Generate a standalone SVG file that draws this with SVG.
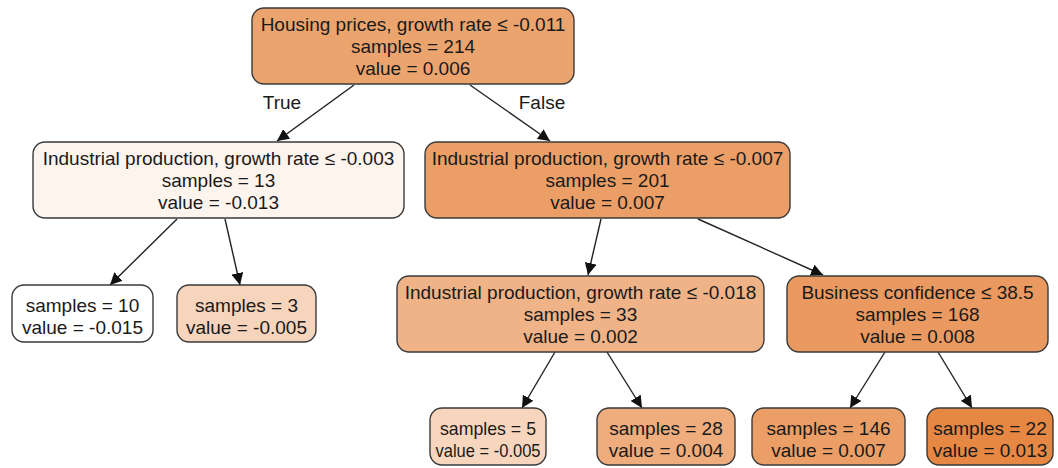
<svg xmlns="http://www.w3.org/2000/svg" width="1058" height="468" viewBox="0 0 1058 468">
<defs>
<style>
.n{stroke:#3a3a3a;stroke-width:1.4}
text{font-family:"Liberation Sans",Arial,sans-serif;font-size:19px;fill:#1a1a1a;text-anchor:middle}
.e{stroke:#222;stroke-width:1.4;fill:none;marker-end:url(#ah)}
</style>
<marker id="ah" viewBox="0 0 10 10" refX="10" refY="5" markerWidth="12" markerHeight="12" markerUnits="userSpaceOnUse" orient="auto">
<path d="M0,0 L10,5 L0,10 z" fill="#111"/>
</marker>
</defs>
<rect width="1058" height="468" fill="#fff"/>
<g id="edges">
<line class="e" x1="354" y1="85" x2="277" y2="141"/>
<line class="e" x1="470" y1="85" x2="550" y2="141"/>
<line class="e" x1="177" y1="219" x2="110" y2="285"/>
<line class="e" x1="225" y1="219" x2="240" y2="285"/>
<line class="e" x1="601" y1="219" x2="588" y2="275"/>
<line class="e" x1="698" y1="219" x2="823" y2="275"/>
<line class="e" x1="555" y1="352" x2="522" y2="408"/>
<line class="e" x1="607" y1="352" x2="642" y2="408"/>
<line class="e" x1="885" y1="352" x2="850" y2="408"/>
<line class="e" x1="938" y1="352" x2="972" y2="408"/>
<text x="282" y="109">True</text>
<text x="542" y="109">False</text>
</g>
<g id="n0">
<rect class="n" x="252" y="8" width="322" height="76" rx="12" fill="#eca46e"/>
<text x="413" y="31">Housing prices, growth rate ≤ -0.011</text>
<text x="413" y="53">samples = 214</text>
<text x="413" y="75">value = 0.006</text>
</g>
<g id="n1">
<rect class="n" x="33" y="142" width="371" height="76" rx="12" fill="#fdf4ee"/>
<text x="218.5" y="165">Industrial production, growth rate ≤ -0.003</text>
<text x="218.5" y="187">samples = 13</text>
<text x="218.5" y="209">value = -0.013</text>
</g>
<g id="n2">
<rect class="n" x="425" y="142" width="365" height="76" rx="12" fill="#eb9e66"/>
<text x="607.5" y="165">Industrial production, growth rate ≤ -0.007</text>
<text x="607.5" y="187">samples = 201</text>
<text x="607.5" y="209">value = 0.007</text>
</g>
<g id="n3">
<rect class="n" x="12" y="285" width="141" height="57" rx="12" fill="#ffffff"/>
<text x="82.5" y="312">samples = 10</text>
<text x="82.5" y="334">value = -0.015</text>
</g>
<g id="n4">
<rect class="n" x="177" y="285" width="139" height="57" rx="12" fill="#f7d5bd"/>
<text x="246.5" y="312">samples = 3</text>
<text x="246.5" y="334">value = -0.005</text>
</g>
<g id="n5">
<rect class="n" x="397" y="276" width="367" height="76" rx="12" fill="#f0b287"/>
<text x="580.5" y="299">Industrial production, growth rate ≤ -0.018</text>
<text x="580.5" y="321">samples = 33</text>
<text x="580.5" y="343">value = 0.002</text>
</g>
<g id="n6">
<rect class="n" x="787" y="276" width="261" height="76" rx="12" fill="#ea9a60"/>
<text x="917.5" y="299">Business confidence ≤ 38.5</text>
<text x="917.5" y="321">samples = 168</text>
<text x="917.5" y="343">value = 0.008</text>
</g>
<g id="n7">
<rect class="n" x="430" y="408" width="116" height="57" rx="12" fill="#f8d6bd"/>
<text x="488" y="435" textLength="96" lengthAdjust="spacingAndGlyphs">samples = 5</text>
<text x="488" y="457" textLength="105" lengthAdjust="spacingAndGlyphs">value = -0.005</text>
</g>
<g id="n8">
<rect class="n" x="597" y="408" width="138" height="57" rx="12" fill="#efac7c"/>
<text x="666" y="435">samples = 28</text>
<text x="666" y="457">value = 0.004</text>
</g>
<g id="n9">
<rect class="n" x="752" y="408" width="153" height="57" rx="12" fill="#eb9e66"/>
<text x="828.5" y="435">samples = 146</text>
<text x="828.5" y="457">value = 0.007</text>
</g>
<g id="n10">
<rect class="n" x="927" y="408" width="126" height="57" rx="12" fill="#e68843"/>
<text x="990" y="435">samples = 22</text>
<text x="990" y="457">value = 0.013</text>
</g>
</svg>
